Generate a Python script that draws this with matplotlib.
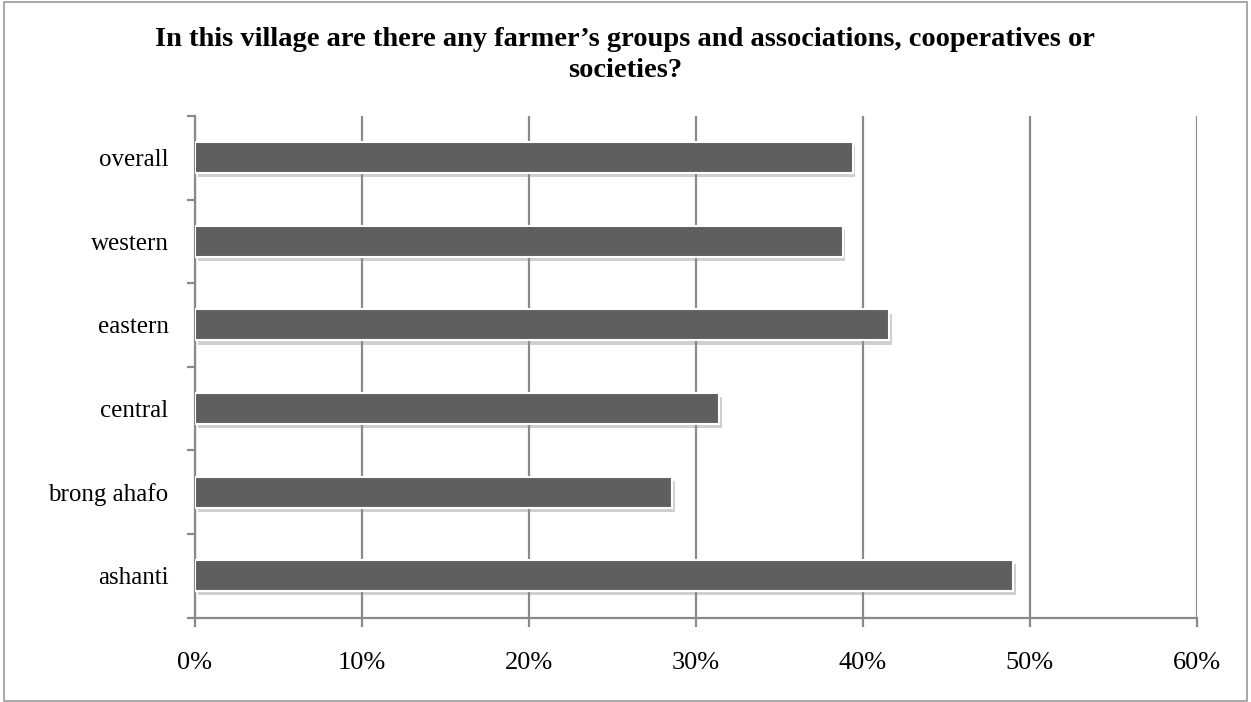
import matplotlib
matplotlib.use("Agg")
import matplotlib.pyplot as plt
import matplotlib.patheffects as pe
from matplotlib.patches import Rectangle
from matplotlib.ticker import FuncFormatter, FixedLocator

categories = ["ashanti", "brong ahafo", "central", "eastern", "western", "overall"]
values = [0.490, 0.286, 0.314, 0.416, 0.388, 0.394]
xticks = [0.0, 0.1, 0.2, 0.3, 0.4, 0.5, 0.6]
title = "In this village are there any farmer\u2019s groups and associations, cooperatives or\nsocieties?"

W, H = 1251, 702
fig = plt.figure(figsize=(W / 100, H / 100), dpi=100)
plt.rcParams['font.family'] = ['Liberation Serif', 'DejaVu Serif']

ax = fig.add_axes([195 / W, 1 - 617.5 / H, (1196.5 - 195) / W, (617.5 - 116) / H])
grid_c = "#8a8a8a"

ypos = list(range(len(categories)))
bars = ax.barh(ypos, values, height=0.37, color="#5f5f5f", edgecolor="white",
               linewidth=1.5, zorder=3)
for b in bars:
    b.set_path_effects([pe.SimplePatchShadow(offset=(2, -3), shadow_rgbFace="#888888", alpha=0.4),
                        pe.Normal()])

ax.set_xlim(0, 0.6)
ax.set_ylim(-0.5, len(categories) - 0.5)
ax.set_xticks(xticks)
ax.xaxis.set_major_formatter(FuncFormatter(lambda v, p: f"{v*100:.0f}%"))
ax.grid(axis="x", color=grid_c, linewidth=1.6, zorder=0)
ax.set_axisbelow(True)

ax.yaxis.set_major_locator(FixedLocator([i - 0.5 for i in range(len(categories) + 1)]))
ax.yaxis.set_minor_locator(FixedLocator(ypos))
ax.set_yticklabels([], minor=False)
ax.set_yticks(ypos, minor=True)
ax.set_yticklabels(categories, minor=True)

for s in ["top", "right"]:
    ax.spines[s].set_visible(False)
for s in ["left", "bottom"]:
    ax.spines[s].set_color(grid_c)
    ax.spines[s].set_linewidth(1.6)

ax.tick_params(axis="y", which="major", length=6, width=1.6, color=grid_c, direction="out")
ax.tick_params(axis="y", which="minor", length=0, pad=19, labelsize=18)
ax.tick_params(axis="x", which="major", length=6.5, width=1.6, color=grid_c, direction="out",
               pad=18, labelsize=19)

for line, base in zip(title.split("\n"), [46, 77]):
    fig.text(0.4996, 1 - base / H, line, ha="center", va="baseline", fontsize=20.5,
             fontweight="bold")

fig.add_artist(Rectangle((3.5 / W, 1.5 / H), (1247 - 3.5) / W, (700 - 1.5) / H,
                         transform=fig.transFigure, fill=False, edgecolor="#9a9a9a",
                         linewidth=1.2))

fig.savefig("out.png", dpi=100)
